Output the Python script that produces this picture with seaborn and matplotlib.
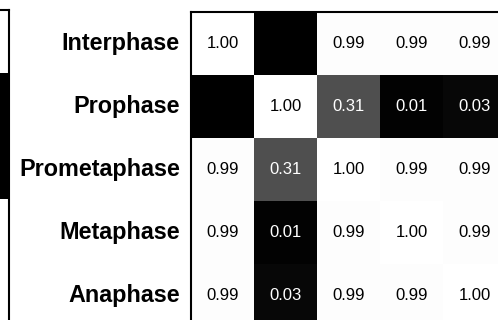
import numpy as np
import pandas as pd
import matplotlib
matplotlib.use("Agg")
import matplotlib.pyplot as plt
import seaborn as sns

# Pairwise similarity between cell-cycle phases
phases = ["Interphase", "Prophase", "Prometaphase", "Metaphase", "Anaphase"]
similarity = [
    [1.00, 0.00, 0.99, 0.99, 0.99],
    [0.00, 1.00, 0.31, 0.01, 0.03],
    [0.99, 0.31, 1.00, 0.99, 0.99],
    [0.99, 0.01, 0.99, 1.00, 0.99],
    [0.99, 0.03, 0.99, 0.99, 1.00],
]
# cells shown without a printed value
unlabeled = [(0, 1), (1, 0)]

# last column of the neighbouring panel
neighbor_column = [1.00, 0.00, 0.00, 1.00, 1.00]

sns.set_theme(style="white")
plt.rcParams["font.family"] = ["Liberation Sans", "DejaVu Sans"]

W, H = 498, 320
fig = plt.figure(figsize=(W / 100, H / 100), dpi=100)

# main heatmap: square 63 px cells, top edge 12 px below the canvas top
cell = 63
ax = fig.add_axes([191 / W, (H - 12 - 5 * cell) / H, 5 * cell / W, 5 * cell / H])
df = pd.DataFrame(similarity, index=phases, columns=phases)
labels = np.array([[f"{v:.2f}" for v in row] for row in similarity], dtype=object)
for r, c in unlabeled:
    labels[r, c] = ""

sns.heatmap(df, ax=ax, cmap="gray", vmin=0, vmax=1, cbar=False,
            annot=labels, fmt="", annot_kws={"size": 12},
            xticklabels=False, yticklabels=phases)
ax.set_ylabel("")
ax.set_xlabel("")
ax.tick_params(axis="y", length=0, pad=8)
for lab in ax.get_yticklabels():
    lab.set_rotation(0)
    lab.set_fontweight("bold")
    lab.set_fontsize(16.8)
    lab.set_color("black")
for t in ax.texts:
    if t.get_color() != "w":
        t.set_color("black")
for side in ("left", "top"):
    ax.spines[side].set_visible(True)
    ax.spines[side].set_color("black")
    ax.spines[side].set_linewidth(1.5)

# neighbouring panel, mostly outside the canvas
ax2 = fig.add_axes([(9 - cell) / W, (H - 10 - 5 * cell) / H, cell / W, 5 * cell / H])
sns.heatmap(pd.DataFrame({"n": neighbor_column}), ax=ax2, cmap="gray",
            vmin=0, vmax=1, cbar=False, xticklabels=False, yticklabels=False)
for side in ("right", "top"):
    ax2.spines[side].set_visible(True)
    ax2.spines[side].set_color("black")
    ax2.spines[side].set_linewidth(1.5)

fig.savefig("out.png", dpi=100)
